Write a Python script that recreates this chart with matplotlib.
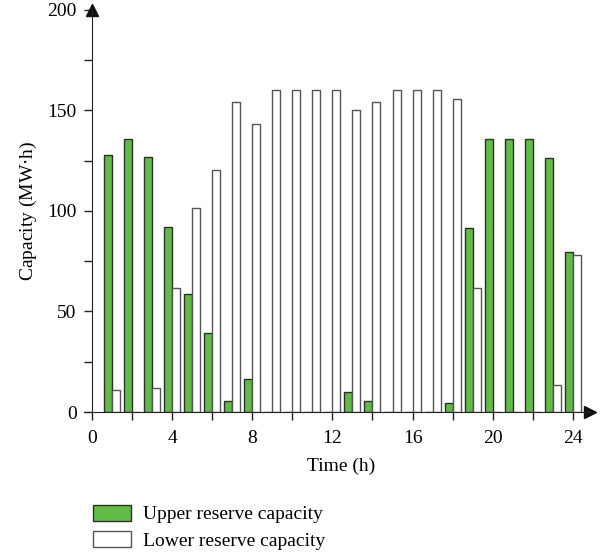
import numpy as np
import matplotlib
matplotlib.use('Agg')
import matplotlib.pyplot as plt
from matplotlib.ticker import MultipleLocator

plt.rcParams['font.family'] = ['Liberation Serif', 'DejaVu Serif']

hours = np.arange(1, 25)
upper = [128, 136, 127, 92, 58.5, 39.3, 5.3, 16.6, 0, 0, 0, 0,
         10, 5.6, 0, 0, 0, 4.4, 91.6, 136, 136, 136, 126.5, 79.4]
lower = [10.7, 0, 12, 61.5, 101.3, 120.6, 154.4, 143.1, 160, 160, 160, 160,
         150, 154.3, 160, 160, 160, 155.8, 61.5, 0, 0, 0, 13.3, 78.3]

fig = plt.figure(figsize=(6.05, 5.57), dpi=100)
ax = fig.add_axes([0.152, 0.2603, 0.823, 0.722])

w = 0.4
ax.bar(hours - w/2, upper, width=w, color='#62bb46', edgecolor='#2e2e2e',
       linewidth=1.0, label='Upper reserve capacity')
ax.bar(hours + w/2, lower, width=w, color='white', edgecolor='#555555',
       linewidth=1.0, label='Lower reserve capacity')

ax.set_xlim(0, 24.85)
ax.set_ylim(0, 200)
ax.spines['top'].set_visible(False)
ax.spines['right'].set_visible(False)
ax.spines['left'].set_color('#222222')
ax.spines['bottom'].set_color('#222222')
ax.spines['bottom'].set_bounds(-0.4, 24.85)

# axis arrows
ax.plot(1, 0, '>', color='#111111', markersize=8, transform=ax.transAxes, clip_on=False)
ax.plot(0, 1, '^', color='#111111', markersize=8, transform=ax.transAxes, clip_on=False)

ax.xaxis.set_major_locator(MultipleLocator(4))
ax.xaxis.set_minor_locator(MultipleLocator(2))
ax.yaxis.set_major_locator(MultipleLocator(50))
ax.yaxis.set_minor_locator(MultipleLocator(25))
ax.tick_params(which='both', direction='out', length=6, width=1, color='#222222',
               labelsize=14)
ax.tick_params(axis='x', pad=7)
ax.tick_params(axis='y', pad=5)

ax.set_xlabel('Time (h)', fontsize=14, labelpad=8)
ax.set_ylabel('Capacity (MW$\\cdot$h)', fontsize=14, labelpad=6)

fig.legend(loc='upper left', bbox_to_anchor=(0.141, 0.108), frameon=False,
           fontsize=14, handlelength=1.95, handleheight=0.9, labelspacing=0.4,
           handletextpad=0.6, borderaxespad=0)

fig.savefig('out.png', dpi=100)
